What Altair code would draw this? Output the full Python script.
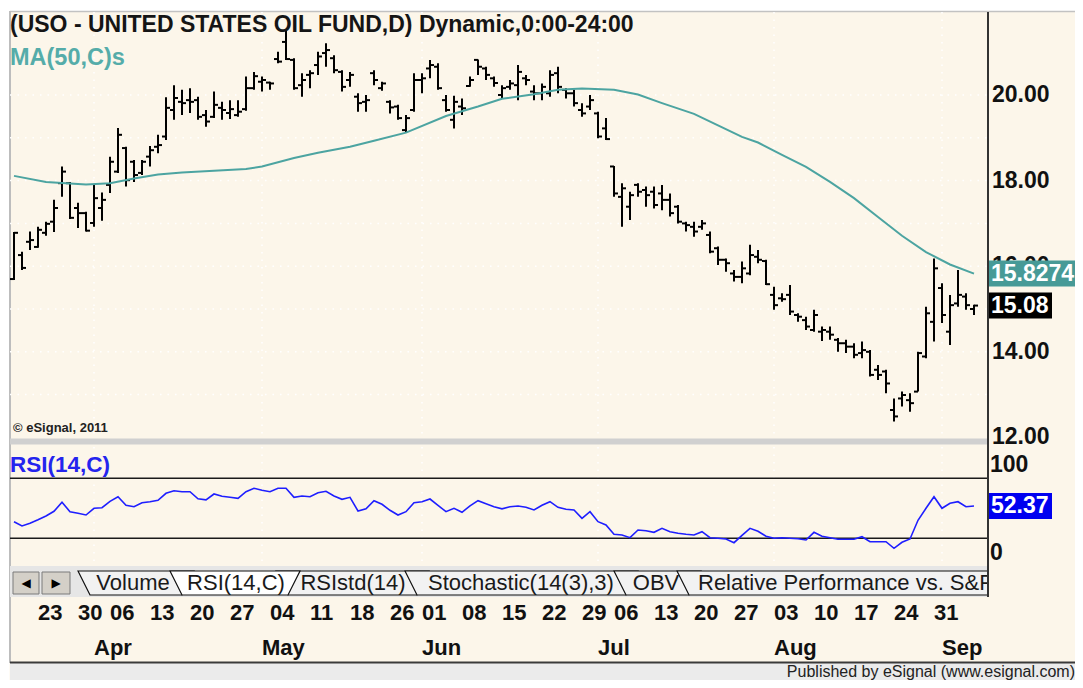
import altair as alt
import pandas as pd

# ---------------------------------------------------------------- data
HOLIDAYS = ["2015-04-03", "2015-05-25", "2015-07-03", "2015-09-07"]
DATES = [d.strftime("%Y-%m-%d") for d in pd.bdate_range("2015-03-18", "2015-09-08")
         if d.strftime("%Y-%m-%d") not in HOLIDAYS]

OPEN = [15.70,16.26,16.57,16.45,16.78,17.04,17.94,17.94,17.36,17.24,
        17.01,17.36,17.90,18.21,18.76,18.44,18.18,18.56,18.79,19.03,
        19.65,19.84,19.88,19.88,19.53,19.49,19.70,19.58,19.53,19.67,
        20.16,20.31,20.29,20.84,21.24,20.82,20.23,20.47,20.70,20.98,
        20.86,20.54,20.35,19.96,19.84,20.51,20.16,19.84,19.73,19.18,
        19.65,20.35,20.62,20.66,19.88,19.42,19.73,20.21,20.82,20.62,
        20.39,20.00,20.19,20.23,20.39,20.08,20.04,20.04,20.51,20.12,
        20.04,19.65,19.73,19.57,19.22,18.33,17.62,17.39,17.90,17.78,
        17.74,17.70,17.55,17.39,17.00,16.92,16.92,16.73,16.42,16.15,
        15.83,15.75,15.83,16.22,16.12,15.33,15.25,15.33,14.86,14.74,
        14.51,14.47,14.47,14.28,14.20,14.12,13.97,14.00,13.58,13.54,
        12.64,12.91,12.87,13.07,13.89,14.70,15.49,14.47,15.13,15.29,
        15.00]
HIGH = [16.80,16.34,16.81,16.92,17.04,17.55,18.33,17.97,17.48,17.27,
        17.90,17.72,18.56,19.23,18.79,18.48,18.48,18.81,19.07,19.95,
        20.23,20.12,20.16,19.96,19.65,20.08,19.84,19.88,19.88,20.43,
        20.54,20.43,20.31,21.01,21.52,20.86,20.51,20.58,21.01,21.21,
        20.93,20.58,20.54,20.04,20.00,20.58,20.31,19.88,19.77,19.53,
        20.51,20.51,20.82,20.74,20.00,19.98,19.92,20.43,20.83,20.66,
        20.43,20.23,20.35,20.70,20.47,20.23,20.27,20.58,20.66,20.16,
        20.12,19.81,20.00,19.61,19.46,18.34,17.94,17.74,17.94,17.86,
        17.86,17.90,17.70,17.43,17.04,17.04,17.08,16.81,16.46,16.18,
        15.91,16.11,16.50,16.38,16.15,15.52,15.37,15.56,14.90,14.82,
        14.98,14.59,14.59,14.32,14.28,14.20,14.24,14.04,13.69,13.58,
        12.91,13.07,13.03,14.00,15.05,16.18,15.60,15.33,15.91,15.37,
        15.10]
LOW = [15.68,15.91,16.38,16.43,16.71,16.80,17.62,17.10,16.89,16.81,
       16.92,17.06,17.71,18.18,17.86,17.97,18.13,18.33,18.64,18.95,
       19.42,19.53,19.58,19.42,19.26,19.46,19.42,19.44,19.49,19.63,
       20.12,20.08,20.12,20.74,20.82,20.12,19.96,20.16,20.47,20.66,
       20.51,20.08,20.19,19.61,19.61,20.23,20.10,19.57,19.42,19.11,
       19.61,20.04,20.39,20.12,19.61,19.22,19.53,20.19,20.47,20.35,
       20.19,19.92,20.12,19.88,20.23,19.88,19.88,19.96,20.04,19.92,
       19.73,19.49,19.65,18.99,18.95,17.62,16.92,17.08,17.62,17.39,
       17.35,17.31,17.16,17.00,16.81,16.69,16.85,16.30,16.03,15.87,
       15.64,15.60,15.79,16.07,15.56,14.98,15.17,14.86,14.70,14.51,
       14.47,14.25,14.28,14.00,13.97,13.85,13.85,13.42,13.34,13.03,
       12.37,12.72,12.60,13.07,13.85,14.24,14.67,14.16,15.05,14.98,
       14.86]
CLOSE = [16.78,15.96,16.61,16.85,16.99,17.36,18.21,17.13,17.24,16.83,
         17.59,17.55,18.44,19.07,18.01,18.13,18.44,18.71,18.83,19.70,
         19.93,19.81,19.84,19.49,19.38,19.77,19.65,19.67,19.61,20.16,
         20.44,20.35,20.27,20.78,20.84,20.16,20.35,20.51,20.90,21.05,
         20.58,20.19,20.47,19.81,19.88,20.35,20.27,19.71,19.46,19.46,
         20.35,20.39,20.70,20.16,19.65,19.84,19.69,20.35,20.66,20.47,
         20.28,20.16,20.27,20.54,20.35,20.04,20.19,20.47,20.19,20.04,
         19.81,19.57,19.88,19.03,18.97,17.70,17.82,17.66,17.74,17.66,
         17.43,17.55,17.24,17.04,16.96,16.81,17.00,16.34,16.15,16.07,
         15.75,15.95,16.26,16.15,15.58,15.09,15.23,14.94,14.82,14.59,
         14.86,14.51,14.40,14.20,14.12,13.93,14.04,13.46,13.46,13.26,
         12.49,12.99,12.80,13.97,14.90,15.95,14.86,15.09,15.33,15.09,
         15.08]
RSI = [36.6,32.3,35.0,38.5,42.3,47.0,56.0,46.6,45.0,43.3,
       50.0,50.6,57.0,61.6,53.0,51.6,55.6,56.6,58.0,65.0,
       67.6,66.6,66.6,59.5,58.5,64.3,62.0,61.0,60.0,66.6,
       70.0,68.0,66.6,70.0,70.0,61.0,62.3,61.6,65.6,67.0,
       62.3,59.0,61.0,47.3,49.5,57.6,54.0,48.0,43.3,46.6,
       55.6,56.6,59.3,53.0,46.6,50.0,46.0,52.5,57.6,54.5,
       51.6,49.5,51.5,52.3,51.0,48.3,53.0,56.6,51.0,49.0,
       48.3,40.0,46.6,36.6,33.3,24.0,23.3,20.6,28.3,27.6,
       26.0,30.0,26.6,25.0,24.0,23.3,26.6,20.6,20.0,19.3,
       15.6,23.0,30.0,27.0,22.0,20.0,20.5,20.0,19.5,18.3,
       26.0,22.0,20.5,19.0,19.0,19.0,21.6,16.6,16.6,16.6,
       10.0,16.0,19.3,38.0,50.0,61.6,50.0,55.0,56.6,51.6,
       52.37]
MA_BAR = [0,4,9,12,15,18,21,25,29,31,35,38,42,45,49,54,58,61,65,68,71,75,78,81,85,88,
          91,93,96,99,102,105,108,111,114,117,120]
MA_VAL = [18.11,17.97,17.91,17.94,18.05,18.14,18.19,18.23,18.27,18.33,18.53,18.65,18.79,
          18.93,19.12,19.51,19.73,19.91,20.02,20.12,20.15,20.12,20.01,19.81,19.56,19.29,
          19.02,18.89,18.60,18.32,17.97,17.59,17.15,16.71,16.33,16.04,15.8274]
LAST_MA, LAST_CLOSE, LAST_RSI = 15.8274, 15.08, 52.37

PRICE_TICKS = [12, 14, 16, 18, 20]
PRICE_GRID = [13, 14, 15, 16, 17, 18, 19, 20]
RSI_BANDS = [80, 20]
WEEK_TICKS = ["2015-03-23", "2015-03-30", "2015-04-06", "2015-04-13", "2015-04-20", "2015-04-27",
              "2015-05-04", "2015-05-11", "2015-05-18", "2015-05-26", "2015-06-01", "2015-06-08",
              "2015-06-15", "2015-06-22", "2015-06-29", "2015-07-06", "2015-07-13", "2015-07-20",
              "2015-07-27", "2015-08-03", "2015-08-10", "2015-08-17", "2015-08-24", "2015-08-31"]
MONTH_TICKS = ["2015-04-01", "2015-05-01", "2015-06-01", "2015-07-01", "2015-08-03", "2015-09-01"]
MONTH_NAMES = ["Apr", "May", "Jun", "Jul", "Aug", "Sep"]
TABS = ["Volume", "RSI(14,C)", "RSIstd(14)", "Stochastic(14(3),3)", "OBV",
        "Relative Performance vs. S&P"]
TITLE = "(USO - UNITED STATES OIL FUND,D) Dynamic,0:00-24:00"

# ---------------------------------------------------------------- styling
F = "Liberation Sans"
CREAM = "#FCF6EA"
TEAL = "#4CA4A1"
TEAL_BOX = "#479A97"
BLUE = "#1E1EFF"
W, H = 1067, 672


def S(lo, hi, r0, r1):
    return alt.Scale(domain=[lo, hi], range=[r0, r1], nice=False, zero=False)


PX = S(8, 8 + W, 0, W)          # page-pixel layout scale
PY = S(8, 8 + H, 0, H)
XB = S(0, 120, 6, 966)          # trading-day index
YP = S(12, 20, 429.4, 87)       # price
YR = S(0, 100, 550.3, 450.3)    # RSI

IDX = {d: i for i, d in enumerate(DATES)}
bars = pd.DataFrame({"i": range(len(DATES)), "o": OPEN, "h": HIGH, "l": LOW, "c": CLOSE, "r": RSI})
ma = pd.DataFrame({"i": MA_BAR, "v": MA_VAL})
weeks = pd.DataFrame({"i": [IDX[d] for d in WEEK_TICKS], "t": [d[-2:] for d in WEEK_TICKS]})
months = pd.DataFrame({"i": [IDX[d] for d in MONTH_TICKS], "t": MONTH_NAMES})


def px_enc(df, mark, **mk):
    c = alt.Chart(df)
    m = getattr(c, mark)(**mk)
    enc = dict(x=alt.X("x:Q", scale=PX, axis=None), y=alt.Y("y:Q", scale=PY, axis=None))
    if "x2" in df.columns:
        enc["x2"] = "x2:Q"
    if "y2" in df.columns:
        enc["y2"] = "y2:Q"
    if "t" in df.columns:
        enc["text"] = "t:N"
    return m.encode(**enc)


def rects(rows, **mk):
    return px_enc(pd.DataFrame(rows, columns=["x", "y", "x2", "y2"]), "mark_rect", **mk)


def segs(rows, **mk):
    return px_enc(pd.DataFrame(rows, columns=["x", "y", "x2", "y2"]), "mark_rule", **mk)


def texts(rows, **mk):
    return px_enc(pd.DataFrame(rows, columns=["x", "y", "t"]), "mark_text", **mk)


def bold(size, color, align="left"):
    return dict(font=F, fontSize=size, fontWeight="bold", color=color, align=align, baseline="middle")


L = []
# frame
L.append(rects([(8, 8, 1083, 11), (8, 8, 9.5, 680)], color="white"))
L.append(segs([(10, 11.5, 1083, 11.5)], color="#C2C2C2", strokeWidth=1.5))
L.append(segs([(10, 11, 10, 663)], color="#BDBDBD", strokeWidth=2))

# grid
L.append(alt.Chart(pd.DataFrame({"p": PRICE_GRID})).mark_rule(
    color="white", strokeWidth=1.5, strokeDash=[1.5, 6]).encode(
    y=alt.Y("p:Q", scale=YP, axis=None), x=alt.value(2), x2=alt.value(980)))
L.append(alt.Chart(months).mark_rule(color="white", strokeWidth=1.5, strokeDash=[1.5, 6]).encode(
    x=alt.X("i:Q", scale=XB, axis=None), y=alt.value(4), y2=alt.value(558)))

# panel separator
L.append(rects([(10, 438.5, 988, 444.5)], color="#D0D0D0"))

# price bars
L.append(alt.Chart(bars).mark_rule(color="black", strokeWidth=2).encode(
    x=alt.X("i:Q", scale=XB, axis=None), y=alt.Y("l:Q", scale=YP, axis=None), y2="h:Q"))
L.append(alt.Chart(bars).mark_rule(color="black", strokeWidth=2, xOffset=-4).encode(
    x=alt.X("i:Q", scale=XB, axis=None), x2="i:Q", y=alt.Y("o:Q", scale=YP, axis=None)))
L.append(alt.Chart(bars).mark_rule(color="black", strokeWidth=2, x2Offset=4).encode(
    x=alt.X("i:Q", scale=XB, axis=None), x2="i:Q", y=alt.Y("c:Q", scale=YP, axis=None)))

# moving average
L.append(alt.Chart(ma).mark_line(color=TEAL, strokeWidth=2).encode(
    x=alt.X("i:Q", scale=XB, axis=None), y=alt.Y("v:Q", scale=YP, axis=None)))

# price labels
L.append(alt.Chart(pd.DataFrame({"p": PRICE_TICKS, "t": [f"{p:.2f}" for p in PRICE_TICKS]}))
         .mark_text(**bold(23, "#111")).encode(
    x=alt.value(984), y=alt.Y("p:Q", scale=YP, axis=None), text="t:N"))

# value boxes (price)
for val, txt, col, x2 in [(LAST_MA, f"{LAST_MA:.4f}", TEAL_BOX, 1067),
                          (LAST_CLOSE, f"{LAST_CLOSE:.2f}", "black", 1044)]:
    d = pd.DataFrame({"p": [val], "t": [txt]})
    L.append(alt.Chart(d).mark_rule(color=col, strokeWidth=26).encode(
        y=alt.Y("p:Q", scale=YP, axis=None), x=alt.value(981), x2=alt.value(x2)))
    L.append(alt.Chart(d).mark_text(**bold(23, "white")).encode(
        y=alt.Y("p:Q", scale=YP, axis=None), x=alt.value(983), text="t:N"))

# headers
L.append(texts([(10, 25, TITLE)], **bold(23, "#151515")))
L.append(texts([(10, 58, "MA(50,C)s")], **bold(23.5, "#55ACA9")))
L.append(texts([(13, 428, "© eSignal, 2011")], **bold(13, "#222")))

# RSI panel
L.append(alt.Chart(pd.DataFrame({"v": RSI_BANDS})).mark_rule(color="#1A1A1A", strokeWidth=1.6).encode(
    y=alt.Y("v:Q", scale=YR, axis=None), x=alt.value(2), x2=alt.value(980)))
L.append(alt.Chart(bars).mark_line(color=BLUE, strokeWidth=1.6).encode(
    x=alt.X("i:Q", scale=XB, axis=None), y=alt.Y("r:Q", scale=YR, axis=None)))
L.append(texts([(10, 465, "RSI(14,C)")], **bold(22.5, "#2424EE")))
L.append(alt.Chart(pd.DataFrame({"v": [100], "t": ["100"]})).mark_text(**bold(23, "#111"), dy=7).encode(
    y=alt.Y("v:Q", scale=YR, axis=None), x=alt.value(982), text="t:N"))
L.append(alt.Chart(pd.DataFrame({"v": [0], "t": ["0"]})).mark_text(**bold(23, "#111"), dy=-5).encode(
    y=alt.Y("v:Q", scale=YR, axis=None), x=alt.value(982), text="t:N"))
d = pd.DataFrame({"v": [LAST_RSI], "t": [f"{LAST_RSI:.2f}"]})
L.append(alt.Chart(d).mark_rule(color="#0000F0", strokeWidth=26).encode(
    y=alt.Y("v:Q", scale=YR, axis=None), x=alt.value(981), x2=alt.value(1044)))
L.append(alt.Chart(d).mark_text(**bold(23, "white")).encode(
    y=alt.Y("v:Q", scale=YR, axis=None), x=alt.value(983), text="t:N"))

# tab strip
TOP, BOT, SL = 571, 595, 12
L.append(rects([(10, 566, 988, 597)], color="#E6E6E6"))
L.append(rects([(13, 572, 39, 594), (42, 572, 70, 594)], color="#D4D0C8", stroke="#7A7A7A", strokeWidth=1))
L.append(texts([(26, 583, "◀"), (56, 583, "▶")], font="DejaVu Sans", fontSize=12, color="black",
               align="center", baseline="middle"))
tab_geom = {"Volume": (78, 194, 133), "RSIstd(14)": (276, 429, 353),
            "Stochastic(14(3),3)": (405, 638, 521), "OBV": (614, 701, 656),
            "Relative Performance vs. S&P": (677, 1010, None), "RSI(14,C)": (170, 300, 236)}
order = ["Volume", "RSIstd(14)", "Stochastic(14(3),3)", "OBV", "Relative Performance vs. S&P", "RSI(14,C)"]
for name in order:
    lt, rt, _ = tab_geom[name]
    poly = pd.DataFrame({"y": [TOP, BOT], "x": [lt, lt + SL], "x2": [rt, rt - SL]})
    fill = "white" if name == "RSI(14,C)" else "#F2F2F2"
    L.append(alt.Chart(poly).mark_area(orient="horizontal", fill=fill, stroke="#111",
                                       strokeWidth=1.2).encode(
        y=alt.Y("y:Q", scale=PY, axis=None), x=alt.X("x:Q", scale=PX, axis=None), x2="x2:Q"))
tab_txt = []
for name in TABS:
    lt, rt, c = tab_geom[name]
    if c is not None:
        tab_txt.append((c, 583, name))
L.append(texts(tab_txt, font=F, fontSize=22, color="#1A1A1A", align="center", baseline="middle"))
L.append(texts([(698, 583, TABS[-1])], font=F, fontSize=22, color="#1A1A1A", align="left",
               baseline="middle"))
L.append(rects([(989, 565, 1083, 600)], color=CREAM))

# right axis line
L.append(segs([(988, 12, 988, 597)], color="#333333", strokeWidth=2))

# date labels
L.append(alt.Chart(weeks).mark_text(**bold(22, "#111")).encode(
    x=alt.X("i:Q", scale=XB, axis=None), y=alt.value(605), text="t:N"))
L.append(alt.Chart(months).mark_text(**bold(22, "#111")).encode(
    x=alt.X("i:Q", scale=XB, axis=None), y=alt.value(640), text="t:N"))

# footer
L.append(rects([(10, 663, 1083, 680)], color="#EBEBEB"))
L.append(segs([(10, 662.5, 1083, 662.5)], color="#3A3A3A", strokeWidth=2))
L.append(texts([(1075, 671.5, "Published by eSignal (www.esignal.com)")], font=F, fontSize=16,
               color="#222", align="right", baseline="middle"))

chart = alt.layer(*L).resolve_scale(x="independent", y="independent").properties(
    width=W, height=H, padding=0, background=CREAM,
    autosize=alt.AutoSizeParams(type="none")).configure_view(stroke=None)

chart.save("out.html", embed_options={"renderer": "svg", "actions": False})
